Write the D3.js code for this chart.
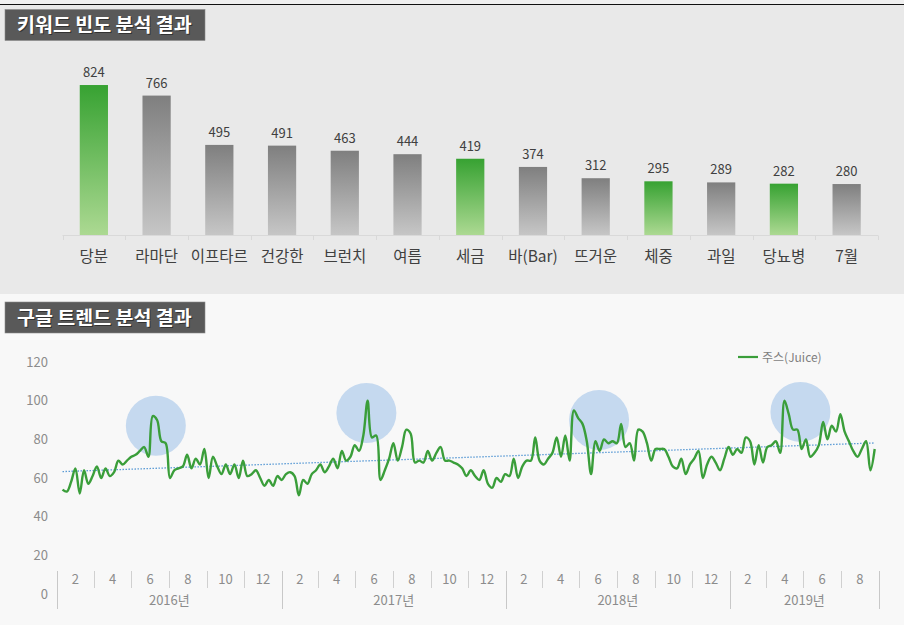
<!DOCTYPE html>
<html>
<head>
<meta charset="utf-8">
<script src="https://cdn.jsdelivr.net/npm/d3@7"></script>
<style>
  body { margin: 0; background: #f8f8f8; }
  svg { display: block; }
  text { font-family: 'Noto Sans CJK KR', 'Noto Sans', sans-serif; }
</style>
</head>
<body>
<div id="canvas"></div>
<script>
// ---- keyword frequency (top chart)
var keywords = ['당분', '라마단', '이프타르', '건강한', '브런치', '여름', '세금', '바(Bar)', '뜨거운', '체중', '과일', '당뇨병', '7월'];
var counts = [824, 766, 495, 491, 463, 444, 419, 374, 312, 295, 289, 282, 280];
var highlighted = ['당분', '세금', '체중', '당뇨병'];

// ---- google trends, weekly (bottom chart)
var firstWeek = '2016-01-10';
var juice = [
  54, 53, 58, 65, 52, 64, 57, 61, 66, 60,
  65, 61, 63, 69, 67, 69, 71, 72, 74, 76,
  71, 92, 90, 79, 78, 60, 64, 65, 66, 72,
  65, 70, 67, 75, 60, 71, 66, 62, 67, 62,
  67, 60, 69, 61, 62, 64, 60, 56, 59, 56,
  61, 59, 62, 63, 61, 51, 59, 57, 62, 64,
  67, 63, 66, 70, 65, 74, 69, 71, 77, 74,
  82, 100, 81, 82, 59, 64, 70, 78, 69, 76,
  85, 83, 68, 69, 68, 74, 69, 73, 76, 69,
  69, 68, 67, 65, 61, 64, 61, 59, 64, 57,
  55, 60, 58, 62, 61, 70, 60, 66, 69, 69,
  81, 69, 67, 70, 73, 81, 71, 82, 69, 95,
  91, 88, 79, 62, 79, 74, 80, 78, 79, 78,
  88, 76, 78, 69, 85, 84, 78, 69, 75, 75,
  75, 71, 66, 65, 70, 62, 67, 70, 74, 60,
  67, 71, 68, 64, 70, 76, 72, 75, 73, 81,
  79, 67, 77, 68, 76, 77, 79, 73, 100, 93,
  85, 85, 75, 80, 71, 73, 77, 89, 80, 87,
  84, 93, 84, 79, 74, 71, 75, 79, 64, 75
];
var seriesName = '주스(Juice)';
var peakDates = ['2016-06-10', '2017-05-19', '2018-06-02', '2019-04-26'];
var peakValues = [87, 93.6, 90, 94.2];
var yTicks = [0, 20, 40, 60, 80, 100, 120];
var years = [2016, 2017, 2018, 2019];
var lastMonth = new Date(2019, 8, 1);

var W = 904, H = 625;
var svg = d3.select('#canvas').append('svg').attr('width', W).attr('height', H);
var defs = svg.append('defs');

function gradient(id, top, bottom) {
  var g = defs.append('linearGradient').attr('id', id)
    .attr('x1', 0).attr('y1', 0).attr('x2', 0).attr('y2', 1);
  g.append('stop').attr('offset', '0%').attr('stop-color', top);
  g.append('stop').attr('offset', '100%').attr('stop-color', bottom);
}
gradient('gGreen', '#37a232', '#acd992');
gradient('gGrey', '#7f7f7f', '#c6c6c6');

// panels
svg.append('rect').attr('width', W).attr('height', 5).attr('fill', '#f0f0f0');
svg.append('rect').attr('y', 5).attr('width', W).attr('height', 289).attr('fill', '#e9e9e9');
svg.append('rect').attr('y', 294).attr('width', W).attr('height', H - 294).attr('fill', '#f8f8f8');
svg.append('line').attr('x1', 0).attr('x2', W).attr('y1', 4.5).attr('y2', 4.5)
  .attr('stroke', '#111').attr('stroke-width', 1);

function titleBox(y, label) {
  svg.append('rect').attr('x', 5).attr('y', y).attr('width', 200).attr('height', 31)
    .attr('fill', '#595959').attr('stroke', '#8a8a8a').attr('stroke-width', 0.6);
  svg.append('text').attr('x', 18).attr('y', y + 23.5).text(label)
    .attr('fill', '#222').attr('opacity', 0.7)
    .attr('font-size', 19.5).attr('font-weight', 'bold');
  svg.append('text').attr('x', 17).attr('y', y + 22.5).text(label)
    .attr('fill', '#fff').attr('font-size', 19.5).attr('font-weight', 'bold');
}
titleBox(9.5, '키워드 빈도 분석 결과');
titleBox(302, '구글 트렌드 분석 결과');

// ---- bar chart
var xb = d3.scaleBand().domain(keywords).range([62.5, 878]).paddingInner(0.55).paddingOuter(0.275);
var yb = d3.scaleLinear().domain([0, 900]).range([235, 71.2]);

var axisG = svg.append('g');
axisG.append('line').attr('x1', 62.5).attr('x2', 878).attr('y1', 235.5).attr('y2', 235.5)
  .attr('stroke', '#d9d9d9');
d3.range(keywords.length + 1).forEach(function (i) {
  var x = Math.round(62.5 + i * (878 - 62.5) / keywords.length) + 0.5;
  axisG.append('line').attr('x1', x).attr('x2', x).attr('y1', 235.5).attr('y2', 240)
    .attr('stroke', '#d9d9d9');
});

var bars = svg.append('g').selectAll('g').data(keywords).enter().append('g');
bars.append('rect')
  .attr('x', function (d) { return xb(d); })
  .attr('y', function (d, i) { return yb(counts[i]); })
  .attr('width', xb.bandwidth())
  .attr('height', function (d, i) { return yb(0) - yb(counts[i]); })
  .attr('fill', function (d) { return highlighted.indexOf(d) >= 0 ? 'url(#gGreen)' : 'url(#gGrey)'; });
bars.append('text')
  .attr('x', function (d) { return xb(d) + xb.bandwidth() / 2; })
  .attr('y', function (d, i) { return yb(counts[i]) - 8; })
  .attr('text-anchor', 'middle').attr('font-size', 13).attr('fill', '#404040')
  .text(function (d, i) { return counts[i]; });
bars.append('text')
  .attr('x', function (d) { return xb(d) + xb.bandwidth() / 2; })
  .attr('y', 262)
  .attr('text-anchor', 'middle').attr('font-size', 15.5).attr('fill', '#404040')
  .text(function (d) { return d; });

// ---- trend chart
var parse = d3.timeParse('%Y-%m-%d');
var weeks = d3.timeWeek.range(parse(firstWeek), d3.timeDay.offset(parse(firstWeek), juice.length * 7));
var points = juice.map(function (v, i) { return { date: weeks[i], value: v, i: i }; });

var xt = d3.scaleTime().domain([new Date(2016, 0, 1), lastMonth]).range([57, 879]);
var yt = d3.scaleLinear().domain([0, 120]).range([594, 362]);

// y labels
svg.append('g').selectAll('text').data(yTicks).enter().append('text')
  .attr('x', 48).attr('y', function (d) { return yt(d) + 4.5; })
  .attr('text-anchor', 'end').attr('font-size', 13).attr('fill', '#8c8c8c')
  .text(function (d) { return d; });

// x axis: months + years
var xa = svg.append('g');
years.forEach(function (yr) {
  var months = yr === 2019 ? [2, 4, 6, 8] : [2, 4, 6, 8, 10, 12];
  months.forEach(function (m) {
    var a = xt(new Date(yr, m - 2, 1)), b = xt(new Date(yr, m, 1));
    xa.append('text').attr('x', (a + b) / 2).attr('y', 584)
      .attr('text-anchor', 'middle').attr('font-size', 13).attr('fill', '#8c8c8c').text(m);
    if (m !== 12 && !(yr === 2019 && m === 8)) {
      var xs = Math.round(b) + 0.5;
      xa.append('line').attr('x1', xs).attr('x2', xs).attr('y1', 571).attr('y2', 588)
        .attr('stroke', '#d0d0d0');
    }
  });
  var end = yr === 2019 ? lastMonth : new Date(yr + 1, 0, 1);
  xa.append('text').attr('x', (xt(new Date(yr, 0, 1)) + xt(end)) / 2).attr('y', 605)
    .attr('text-anchor', 'middle').attr('font-size', 13).attr('fill', '#8c8c8c').text(yr + '년');
});
years.map(function (yr) { return new Date(yr, 0, 1); }).concat([lastMonth]).forEach(function (d) {
  var xs = Math.round(xt(d)) + 0.5;
  xa.append('line').attr('x1', xs).attr('x2', xs).attr('y1', 571).attr('y2', 609)
    .attr('stroke', '#c8c8c8');
});

// highlight circles behind the line
svg.append('g').selectAll('circle').data(peakDates).enter().append('circle')
  .attr('cx', function (d) { return xt(parse(d)); })
  .attr('cy', function (d, i) { return yt(peakValues[i]); })
  .attr('r', 30)
  .attr('fill', '#c5d9ef');

// linear trendline (least squares on week index)
var mx = d3.mean(points, function (d) { return d.i; });
var my = d3.mean(points, function (d) { return d.value; });
var slope = d3.sum(points, function (d) { return (d.i - mx) * (d.value - my); }) /
            d3.sum(points, function (d) { return (d.i - mx) * (d.i - mx); });
var icpt = my - slope * mx;
var ends = [points[0], points[points.length - 1]];
svg.append('line')
  .attr('x1', xt(ends[0].date)).attr('y1', yt(icpt + slope * ends[0].i))
  .attr('x2', xt(ends[1].date)).attr('y2', yt(icpt + slope * ends[1].i))
  .attr('stroke', '#5b9bd5').attr('stroke-width', 1.3).attr('stroke-dasharray', '1.5,1.5');

var line = d3.line()
  .x(function (d) { return xt(d.date); })
  .y(function (d) { return yt(d.value); })
  .curve(d3.curveCatmullRom.alpha(0.5));
svg.append('path').datum(points).attr('d', line)
  .attr('fill', 'none').attr('stroke', '#3a9e3a').attr('stroke-width', 2.4)
  .attr('stroke-linejoin', 'round');

// legend
svg.append('line').attr('x1', 738).attr('x2', 758).attr('y1', 357).attr('y2', 357)
  .attr('stroke', '#3a9e3a').attr('stroke-width', 2.2);
svg.append('text').attr('x', 762).attr('y', 361.5).attr('font-size', 12).attr('fill', '#7f7f7f')
  .text(seriesName);
</script>
</body>
</html>
